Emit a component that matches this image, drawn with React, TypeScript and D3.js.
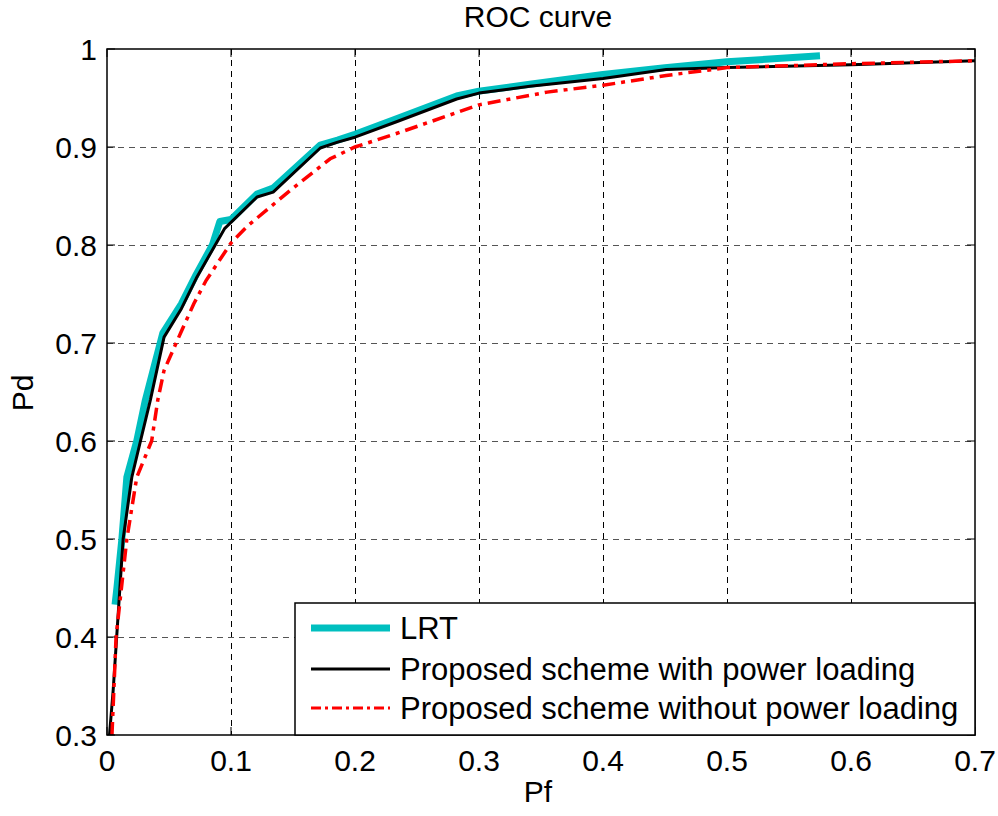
import React, { useRef, useEffect } from "react";
import * as d3 from "d3";

// ROC curves (Pf, Pd)
const lrtPf = [0.0065, 0.008, 0.012, 0.016, 0.024, 0.031, 0.045, 0.06, 0.072, 0.085, 0.091, 0.1, 0.121, 0.134, 0.172, 0.186, 0.2, 0.234, 0.282, 0.3, 0.341, 0.4, 0.45, 0.5, 0.575];
const lrtPd = [0.433, 0.45, 0.5, 0.563, 0.6, 0.642, 0.71, 0.74, 0.77, 0.8, 0.824, 0.826, 0.852, 0.858, 0.902, 0.907, 0.913, 0.929, 0.952, 0.957, 0.964, 0.974, 0.981, 0.987, 0.993];

const withPf = [0.002, 0.005, 0.0078, 0.013, 0.02, 0.027, 0.035, 0.046, 0.06, 0.072, 0.085, 0.095, 0.121, 0.134, 0.172, 0.186, 0.2, 0.234, 0.282, 0.3, 0.341, 0.4, 0.451, 0.5, 0.6, 0.7];
const withPd = [0.3, 0.346, 0.4, 0.5, 0.563, 0.6, 0.642, 0.706, 0.735, 0.766, 0.795, 0.817, 0.849, 0.854, 0.899, 0.905, 0.91, 0.926, 0.949, 0.955, 0.962, 0.97, 0.979, 0.981, 0.984, 0.988];

const withoutPf = [0.004, 0.006, 0.0073, 0.016, 0.024, 0.036, 0.041, 0.046, 0.06, 0.07, 0.08, 0.1, 0.113, 0.148, 0.18, 0.2, 0.234, 0.3, 0.355, 0.4, 0.451, 0.5, 0.6, 0.7];
const withoutPd = [0.3, 0.36, 0.4, 0.5, 0.563, 0.6, 0.642, 0.672, 0.712, 0.74, 0.764, 0.802, 0.819, 0.856, 0.888, 0.9, 0.914, 0.943, 0.956, 0.963, 0.973, 0.981, 0.985, 0.988];

const xTicks = [0, 0.1, 0.2, 0.3, 0.4, 0.5, 0.6, 0.7];
const yTicks = [0.3, 0.4, 0.5, 0.6, 0.7, 0.8, 0.9, 1];

const seriesNames = [
  "LRT",
  "Proposed scheme with power loading",
  "Proposed scheme without power loading",
];

const App = () => {
  const svgRef = useRef<SVGSVGElement>(null);

  useEffect(() => {
    const svg = d3.select(svgRef.current);
    svg.selectAll("*").remove();

    const left = 107, right = 975, top = 49, bottom = 735;
    const font = "'Liberation Sans', Arial, sans-serif";

    const x = d3.scaleLinear().domain([0, 0.7]).range([left, right]);
    const y = d3.scaleLinear().domain([0.3, 1]).range([bottom, top]);

    svg.append("rect").attr("width", 998).attr("height", 816).attr("fill", "#fff");

    svg.append("defs").append("clipPath").attr("id", "plot-clip")
      .append("rect")
      .attr("x", left).attr("y", top)
      .attr("width", right - left).attr("height", bottom - top);

    // grid
    const grid = svg.append("g");
    grid.selectAll(".vg")
      .data(xTicks.slice(1, -1))
      .join("line")
      .attr("x1", (d) => Math.round(x(d)) + 0.5)
      .attr("x2", (d) => Math.round(x(d)) + 0.5)
      .attr("y1", top).attr("y2", bottom)
      .attr("stroke", "#000").attr("stroke-width", 1)
      .attr("stroke-dasharray", "6,5");
    grid.selectAll(".hg")
      .data(yTicks.slice(1, -1))
      .join("line")
      .attr("y1", (d) => Math.round(y(d)) + 0.5)
      .attr("y2", (d) => Math.round(y(d)) + 0.5)
      .attr("x1", left).attr("x2", right)
      .attr("stroke", "#555").attr("stroke-width", 1)
      .attr("stroke-dasharray", "6,5");

    const line = d3.line<[number, number]>()
      .x((d) => x(d[0]))
      .y((d) => y(d[1]));

    const plot = svg.append("g").attr("clip-path", "url(#plot-clip)");
    plot.append("path")
      .datum(lrtPf.map((v, i) => [v, lrtPd[i]] as [number, number]))
      .attr("fill", "none").attr("stroke", "#00BFBF")
      .attr("stroke-width", 7).attr("stroke-linejoin", "round")
      .attr("d", line);
    plot.append("path")
      .datum(withPf.map((v, i) => [v, withPd[i]] as [number, number]))
      .attr("fill", "none").attr("stroke", "#000")
      .attr("stroke-width", 3).attr("stroke-linejoin", "round")
      .attr("d", line);
    plot.append("path")
      .datum(withoutPf.map((v, i) => [v, withoutPd[i]] as [number, number]))
      .attr("fill", "none").attr("stroke", "#ff0000")
      .attr("stroke-width", 3.5)
      .attr("stroke-dasharray", "13,6,4,6")
      .attr("d", line);

    // axes box and inward ticks
    svg.append("rect")
      .attr("x", left).attr("y", top)
      .attr("width", right - left).attr("height", bottom - top)
      .attr("fill", "none").attr("stroke", "#000").attr("stroke-width", 1.5);

    const tl = 8;
    svg.append("g").selectAll("path")
      .data(xTicks)
      .join("path")
      .attr("d", (d) => `M${x(d)},${bottom}v${-tl}M${x(d)},${top}v${tl}`)
      .attr("stroke", "#000").attr("stroke-width", 1);
    svg.append("g").selectAll("path")
      .data(yTicks)
      .join("path")
      .attr("d", (d) => `M${left},${y(d)}h${tl}M${right},${y(d)}h${-tl}`)
      .attr("stroke", "#000").attr("stroke-width", 1);

    // tick labels
    svg.append("g").selectAll("text")
      .data(xTicks)
      .join("text")
      .attr("x", (d) => x(d)).attr("y", 771)
      .attr("text-anchor", "middle")
      .attr("font-family", font).attr("font-size", 30)
      .text((d) => d3.format("~g")(d));
    svg.append("g").selectAll("text")
      .data(yTicks)
      .join("text")
      .attr("x", 97).attr("y", (d) => y(d) + 11)
      .attr("text-anchor", "end")
      .attr("font-family", font).attr("font-size", 30)
      .text((d) => d3.format("~g")(d));

    // titles
    svg.append("text")
      .attr("x", 538).attr("y", 27)
      .attr("text-anchor", "middle")
      .attr("font-family", font).attr("font-size", 30)
      .text("ROC curve");
    svg.append("text")
      .attr("x", 538).attr("y", 802)
      .attr("text-anchor", "middle")
      .attr("font-family", font).attr("font-size", 30)
      .text("Pf");
    svg.append("text")
      .attr("transform", "translate(33,393) rotate(-90)")
      .attr("text-anchor", "middle")
      .attr("font-family", font).attr("font-size", 30)
      .text("Pd");

    // legend
    const lg = svg.append("g");
    lg.append("rect")
      .attr("x", 295).attr("y", 603)
      .attr("width", right - 295).attr("height", bottom - 603)
      .attr("fill", "#fff").attr("stroke", "#000").attr("stroke-width", 1.5);
    const rowY = [628, 669, 708];
    const styles = [
      { color: "#00BFBF", width: 7, dash: null },
      { color: "#000", width: 3, dash: null },
      { color: "#ff0000", width: 3, dash: "10,4,3,4" },
    ];
    seriesNames.forEach((name, i) => {
      lg.append("line")
        .attr("x1", 311).attr("x2", 390)
        .attr("y1", rowY[i]).attr("y2", rowY[i])
        .attr("stroke", styles[i].color)
        .attr("stroke-width", styles[i].width)
        .attr("stroke-dasharray", styles[i].dash);
      lg.append("text")
        .attr("x", 400).attr("y", rowY[i] + 11)
        .attr("font-family", font).attr("font-size", 31)
        .text(name);
    });
  }, []);

  return (
    <svg
      ref={svgRef}
      width={998}
      height={816}
      style={{ position: "absolute", left: 0, top: 0 }}
    ></svg>
  );
};

export default App;
